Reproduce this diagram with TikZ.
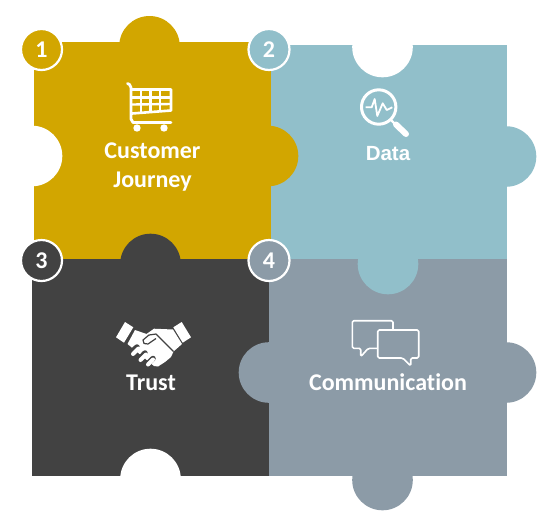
\documentclass[tikz,border=0pt]{standalone}
\usepackage{fontspec}
\setmainfont[Ligatures=CommonOff]{Carlito}
\newfontfamily\datafont{Liberation Sans}
\definecolor{pieceyellow}{HTML}{D2A600}
\definecolor{pieceteal}{HTML}{91BFCA}
\definecolor{piecedark}{HTML}{424242}
\definecolor{piecegray}{HTML}{8C9BA7}
\tikzset{
	badge/.style={circle, draw=white, line width=2.2pt, minimum size=41pt, inner sep=0pt,
		text=white, font=\fontsize{24}{24}\selectfont\bfseries},
	caption/.style={text=white, inner sep=0pt, align=center, anchor=base,
		font=\fontsize{24}{29}\selectfont\bfseries},
	iconline/.style={draw=white, line width=#1, line join=round},
	iconline/.default=1.6pt
}
\begin{document}
\begin{tikzpicture}[x=1pt,y=-1pt]
	\useasboundingbox (0,0) rectangle (554,515);
	%% the four squares
	\fill[pieceyellow] (34,42) rectangle (271,259);
	\fill[pieceteal] (271,45) rectangle (507,259);
	\fill[piecedark] (32,259) rectangle (269,476);
	\fill[piecegray] (269,259) rectangle (507,476);
	%% tabs and notches
	\foreach \tabx/\taby/\tabcol in {
		149.5/46.3/pieceyellow, 268/156/pieceyellow, 506/156.5/pieceteal, 388/264/pieceteal,
		150.5/264/piecedark, 269/372.5/piecegray, 506/372.5/piecegray, 382.5/480/piecegray,
		32/156/white, 382.5/47/white, 150.5/479/white}
		\fill[\tabcol] (\tabx,\taby) circle (30.3pt);
	%% cart
	\draw[iconline=2.8pt, line cap=round] (127.5,83.5) -- (129.5,84.5) -- (131,87.5) -- (131,119) -- (133,122.5) -- (171,122.5);
	\draw[iconline=2.6pt] (132,89.5) -- (171,89.5) -- (171,110.5) -- (132,113.5);
	\draw[iconline=2.4pt] (132,97.5) -- (171,97.5);
	\draw[iconline=2.4pt] (132,104.5) -- (171,104);
	\foreach \cartx/\carty in {141/113, 150.5/112.3, 160/111.6}
		\draw[iconline=2.4pt] (\cartx,89) -- (\cartx,\carty);
	\fill[white] (137,128) circle (3.7pt);
	\fill[white] (164,128) circle (3.7pt);
	%% magnifier
	\draw[iconline=3pt] (378.7,107) circle (17.2pt);
	\draw[iconline=2.4pt] (390.5,119.5) -- (396,125);
	\draw[iconline=6pt, line cap=round] (396,124.5) -- (406,134);
	\draw[iconline=1.8pt] (365.7,107.3) -- (371.7,107.3) -- (374.7,99) -- (377.3,116) -- (382.7,103.3) -- (386.7,110) -- (392.3,107.3);
	%% handshake
	\fill[white] (116,337.3) -- (125,322) -- (133.3,327.3) -- (124,342.7) -- cycle;
	\fill[white] (173.3,327.3) -- (181.7,322) -- (191,337.3) -- (182.7,342.7) -- cycle;
	\fill[white] (127.5,344) -- (135,330) -- (146.5,334) -- (154,328.7) -- (173,329.5) -- (182,344) -- (173.5,351.5) -- (171,357) -- (165,362) -- (158,366.5) -- (154,366) -- cycle;
	\draw[piecedark, line width=1.2pt, line join=round] (173.5,351.5) -- (156,334) -- (149,335) -- (143,340) -- (144,343.5) -- (148,344) -- (156,338.5);
	\draw[piecedark, line width=5.5pt, line cap=round] (131,352.5) -- (137,347);
	\draw[piecedark, line width=5.5pt, line cap=round] (139,359.5) -- (145,353);
	\draw[piecedark, line width=5.5pt, line cap=round] (146.5,365) -- (153,358.5);
	\draw[white, line width=4pt, line cap=round] (133,354) -- (138.5,348.5);
	\draw[white, line width=4pt, line cap=round] (140.5,360) -- (146,354.5);
	\draw[white, line width=4pt, line cap=round] (148,364.5) -- (153,359.5);
	%% speech bubbles
	\draw[iconline, rounded corners=1.5pt] (393,329.3) -- (393,320.7) -- (352.3,320.7) -- (352.3,348.3) -- (360.7,348.3) -- (360.7,356.7) -- (368.3,348.3) -- (377.7,348.3);
	\draw[iconline, rounded corners=1.5pt] (377.7,330) -- (418.7,330) -- (418.7,358) -- (410.7,358) -- (410.7,366) -- (402.7,358) -- (377.7,358) -- cycle;
	%% captions
	\node[caption] (customer) at (152.5,187.7) {Customer\\Journey};
	\node[caption, font=\fontsize{20.5}{24}\selectfont\bfseries\datafont] (data) at (388,160) {Data};
	\node[caption] (trust) at (151,390) {Trust};
	\node[caption] (communication) at (388,390) {Communication};
	%% numbers
	\node[badge, fill=pieceyellow] (one) at (41.5,49.5) {1};
	\node[badge, fill=pieceteal] (two) at (269,49.5) {2};
	\node[badge, fill=piecedark] (three) at (41.5,260.5) {3};
	\node[badge, fill=piecegray] (four) at (269,260.5) {4};
\end{tikzpicture}
\end{document}
